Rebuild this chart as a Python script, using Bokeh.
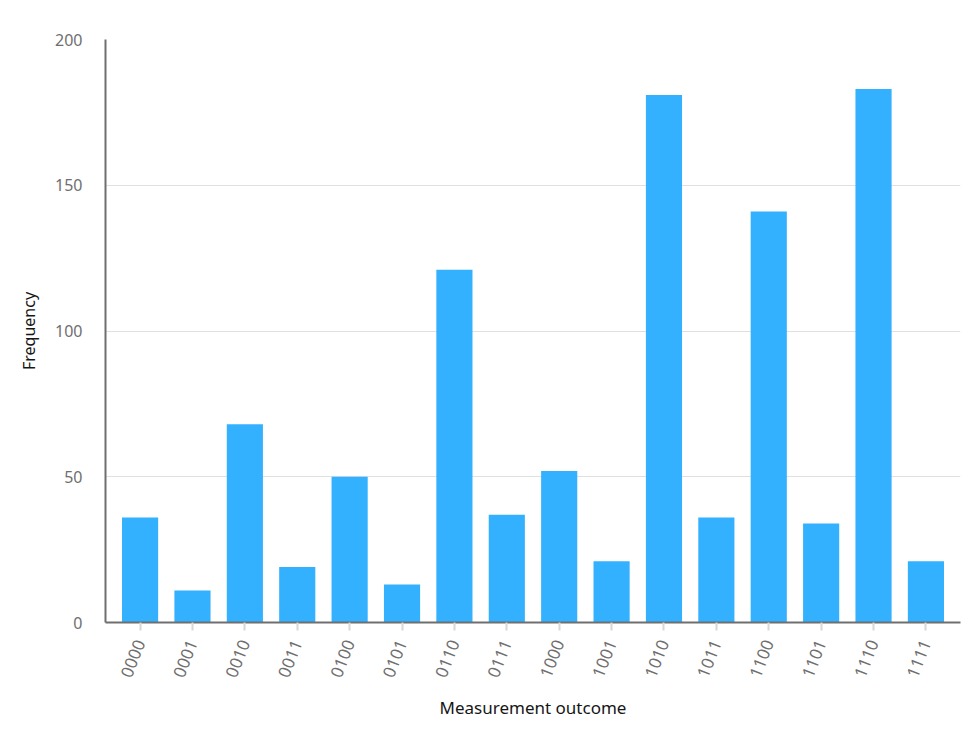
from bokeh.plotting import figure
from bokeh.models import ColumnDataSource, FactorRange, Range1d, FixedTicker
from bokeh.embed import file_html
from bokeh.resources import INLINE

outcomes = ["0000", "0001", "0010", "0011", "0100", "0101", "0110", "0111",
            "1000", "1001", "1010", "1011", "1100", "1101", "1110", "1111"]
counts = [36, 11, 68, 19, 50, 13, 121, 37, 52, 21, 181, 36, 141, 34, 183, 21]
y_ticks = [0, 50, 100, 150, 200]

src = ColumnDataSource(dict(x=outcomes, top=counts))

p = figure(width=976, height=741, output_backend="svg", toolbar_location=None,
           x_range=FactorRange(*outcomes, range_padding=0.02),
           y_range=Range1d(0, 200),
           min_border_left=105, min_border_right=16, min_border_top=39,
           min_border_bottom=119)
p.vbar(x="x", top="top", width=0.69, source=src, color="#33b1ff", line_color=None)

p.outline_line_color = None
p.background_fill_color = "white"
p.border_fill_color = "white"
p.xgrid.grid_line_color = None
p.ygrid.grid_line_color = "#e0e0e0"
p.ygrid.grid_line_width = 1
p.yaxis.ticker = FixedTicker(ticks=y_ticks)

font = "Noto Sans"
for ax in (p.xaxis[0], p.yaxis[0]):
    ax.axis_line_color = "#6f6f6f"
    ax.axis_line_width = 2
    ax.minor_tick_line_color = None
    ax.major_label_text_font = font
    ax.major_label_text_font_size = "16px"
    ax.major_label_text_color = "#6f6f6f"
    ax.axis_label_text_font = font
    ax.axis_label_text_font_style = "normal"
    ax.axis_label_text_color = "#161616"

p.yaxis.major_tick_line_color = None
p.yaxis.major_label_standoff = 17
p.yaxis.axis_label = "Frequency"
p.yaxis.axis_label_text_font_size = "16px"
p.yaxis.axis_label_standoff = 12

p.xaxis.major_tick_line_color = "#d8d8d8"
p.xaxis.major_tick_line_width = 2
p.xaxis.major_tick_out = 8
p.xaxis.major_tick_in = 0
p.xaxis.major_label_orientation = 1.2
p.xaxis.major_label_text_font_size = "17px"
p.xaxis.major_label_standoff = 10
p.xaxis.axis_label = "Measurement outcome"
p.xaxis.axis_label_text_font_size = "17px"
p.xaxis.axis_label_standoff = 12

open("out.html", "w").write(file_html(p, INLINE))
